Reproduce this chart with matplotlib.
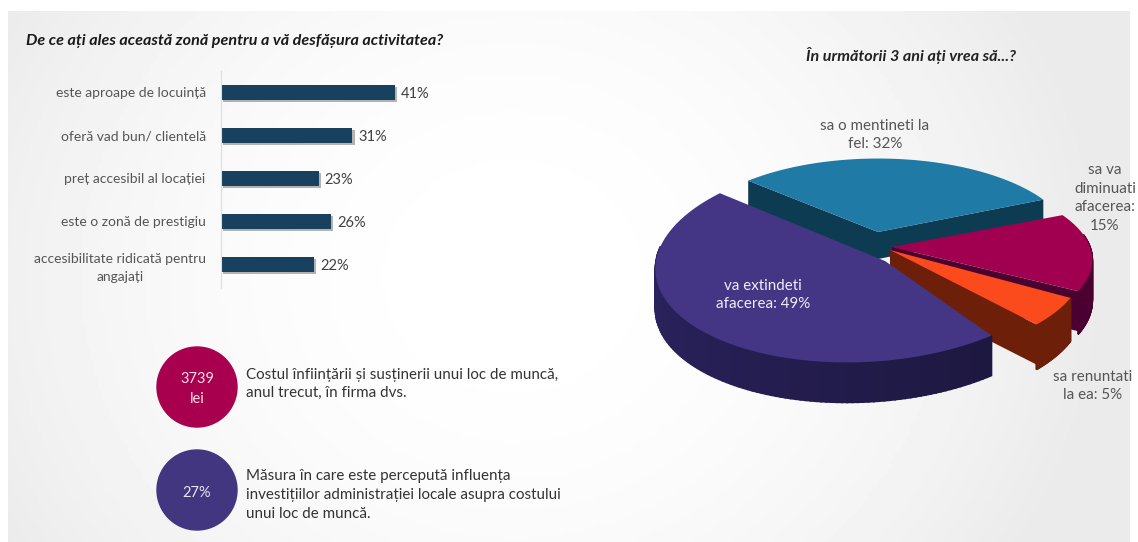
import numpy as np
import matplotlib
matplotlib.use("Agg")
import matplotlib.pyplot as plt
from matplotlib.colors import to_rgb
from matplotlib.patches import Circle, Polygon
import matplotlib.patheffects as pe

plt.rcParams['font.family'] = ['Lato', 'DejaVu Sans']

W, H = 1138, 542

bar_labels = ["este aproape de locuință", "oferă vad bun/ clientelă", "preț accesibil al locației",
              "este o zonă de prestigiu", "accesibilitate ridicată pentru\nangajați"]
bar_values = [41, 31, 23, 26, 22]

pie_names = ["blue", "purple", "orange", "magenta"]
pie_values = [32, 49, 5, 15]
pie_texts = ["sa o mentineti la\nfel: 32%", "va extindeti\nafacerea: 49%", "sa renuntati\nla ea: 5%",
             "sa va\ndiminuati\nafacerea:\n15%"]

START = 24
# cx, cy, R, squash, shear, depth, perspective, apex
slice_geom = {
    "blue": (878, 232, 192, 0.44, 0.0, 27, 0.15, (878, 232)),
    "purple": (863, 261, 207, 0.49, 0.16, 40, 0.0, (885, 261)),
    "orange": (890, 250, 192, 0.47, 0.0, 40, 0.15, (890, 250)),
    "magenta": (892, 247, 198, 0.42, 0.0, 40, 0.15, (892, 247)),
}
top_col = {"blue": "#1f7aa6", "purple": "#443685", "orange": "#fb4a1c", "magenta": "#a0004f"}
wall_col = {"blue": "#0d3c52", "purple": "#30276a", "orange": "#6e1f0a", "magenta": "#4a0030"}


def project(name, theta, drop=0.0):
    cx, cy, R, t, shear, depth, kp, apex = slice_geom[name]
    a = np.radians(theta)
    x, y = np.cos(a), np.sin(a)
    s = 1 / (1 + kp * y)
    return cx + R * x * s + shear * R * t * y * s, cy - R * t * y * s + drop * depth * s


def arc(name, a0, a1, drop=0.0):
    th = np.linspace(a0, a1, 80)
    xs, ys = project(name, th, drop)
    return np.column_stack([xs, ys])


fig = plt.figure(figsize=(W / 100, H / 100), dpi=100, facecolor="white")
bg = fig.add_axes([0, 0, 1, 1])
bg.axis("off")

# grey slide background
xx = np.linspace(-1, 1, 300)
yy = np.linspace(-1, 1, 150)
gx, gy = np.meshgrid(xx, yy)
shade = 1 - 0.08 * np.clip(np.abs(gx + 0.1) ** 2 * 0.9 + gy ** 2 * 0.25, 0, 1)
bg.imshow(shade, cmap="gray", vmin=0, vmax=1, extent=(8, 1130, 542, 11), aspect="auto", zorder=0)
bg.set_xlim(0, W)
bg.set_ylim(H, 0)

bg.text(26, 41, "De ce ați ales această zonă pentru a vă desfășura activitatea?", fontsize=11.6,
        fontweight="bold", style="italic", color="#1a1a1a", va="center")
bg.text(806, 56, "În următorii 3 ani ați vrea să...?", fontsize=11.6,
        fontweight="bold", style="italic", color="#222222", va="center")

# bars
ax = fig.add_axes([221 / W, 1 - 288 / H, 254 / W, 217 / H])
ax.patch.set_alpha(0)
y_pos = np.arange(len(bar_values))
bars = ax.barh(y_pos, bar_values, height=0.35, color="#17415f")
for b in bars:
    b.set_path_effects([pe.withSimplePatchShadow(offset=(1.5, -1.5), shadow_rgbFace="#777777", alpha=0.55)])
for yp, v in zip(y_pos, bar_values):
    ax.text(v + 1.4, yp, f"{v}%", va="center_baseline", ha="left", fontsize=10.5, color="#404040")
ax.set_xlim(0, 254 / 4.24)
ax.set_ylim(len(bar_values) - 0.45, -0.5)
ax.set_yticks(y_pos)
ax.set_yticklabels(bar_labels, fontsize=10, color="#555555", ma="center", linespacing=1.55, va="center_baseline")
ax.tick_params(axis="y", length=0, pad=11)
ax.set_xticks([])
for sp in ["top", "right", "bottom"]:
    ax.spines[sp].set_visible(False)
ax.spines["left"].set_color("#dddddd")

# circles and notes
bg.add_patch(Circle((197, 387), 40, color="#a8004f", zorder=2))
bg.add_patch(Circle((197, 490), 40, color="#41367f", zorder=2))
bg.text(197, 389, "3739\nlei", color="#f4dfe8", ha="center", va="center", fontsize=10.5, linespacing=1.6, zorder=3)
bg.text(197, 493, "27%", color="#e8e6f2", ha="center", va="center", fontsize=10.5, zorder=3)
bg.text(246, 384, "Costul înființării și susținerii unui loc de muncă,\nanul trecut, în firma dvs.",
        fontsize=10.9, color="#333333", va="center", linespacing=1.42)
bg.text(246, 495, "Măsura în care este percepută influența\ninvestițiilor administrației locale asupra costului\nunui loc de muncă.",
        fontsize=10.9, color="#333333", va="center", linespacing=1.42)

# 3d pie, angles from the values
total = sum(pie_values)
edges = START + np.cumsum([0] + pie_values) * 360 / total
spans = {n: (edges[i], edges[i + 1]) for i, n in enumerate(pie_names)}


def cut_face(name, theta):
    px, py = project(name, theta)
    ax0, ay0 = slice_geom[name][7]
    depth = slice_geom[name][5]
    bg.add_patch(Polygon([(ax0, ay0), (px, py), (px, py + depth), (ax0, ay0 + depth)],
                         color=wall_col[name], lw=0, zorder=5))


def outer_wall(name):
    a0, a1 = spans[name]
    th = np.linspace(a0, a1, 120)
    base = np.array(to_rgb(wall_col[name]))
    for i in range(len(th) - 1):
        if np.sin(np.radians((th[i] + th[i + 1]) / 2)) > 0.15:
            continue
        top = arc(name, th[i], th[i + 1])[[0, -1]]
        low = arc(name, th[i], th[i + 1], 1.0)[[-1, 0]]
        f = 1.0 - 0.4 * i / len(th) if name == "purple" else 1.0
        bg.add_patch(Polygon(np.vstack([top, low]), facecolor=base * f, edgecolor=base * f, lw=1.2, zorder=5))


def top_face(name):
    a0, a1 = spans[name]
    apex = slice_geom[name][7]
    bg.add_patch(Polygon(np.vstack([apex, arc(name, a0, a1)]), color=top_col[name], lw=0, zorder=5))


for name, cuts in [("blue", spans["blue"]), ("magenta", (spans["magenta"][0],)),
                   ("orange", (spans["orange"][0],)), ("purple", ())]:
    for c in cuts:
        cut_face(name, c)
    outer_wall(name)
    top_face(name)

centers = [(875, 135), (763, 295), (1093, 386), (1105, 198)]
for txt, c, n in zip(pie_texts, centers, pie_names):
    bg.text(c[0], c[1], txt, ha="center", va="center", fontsize=10.9,
            color="#eeeef6" if n == "purple" else "#555555", linespacing=1.45, zorder=8)

fig.savefig("out.png", dpi=100)
